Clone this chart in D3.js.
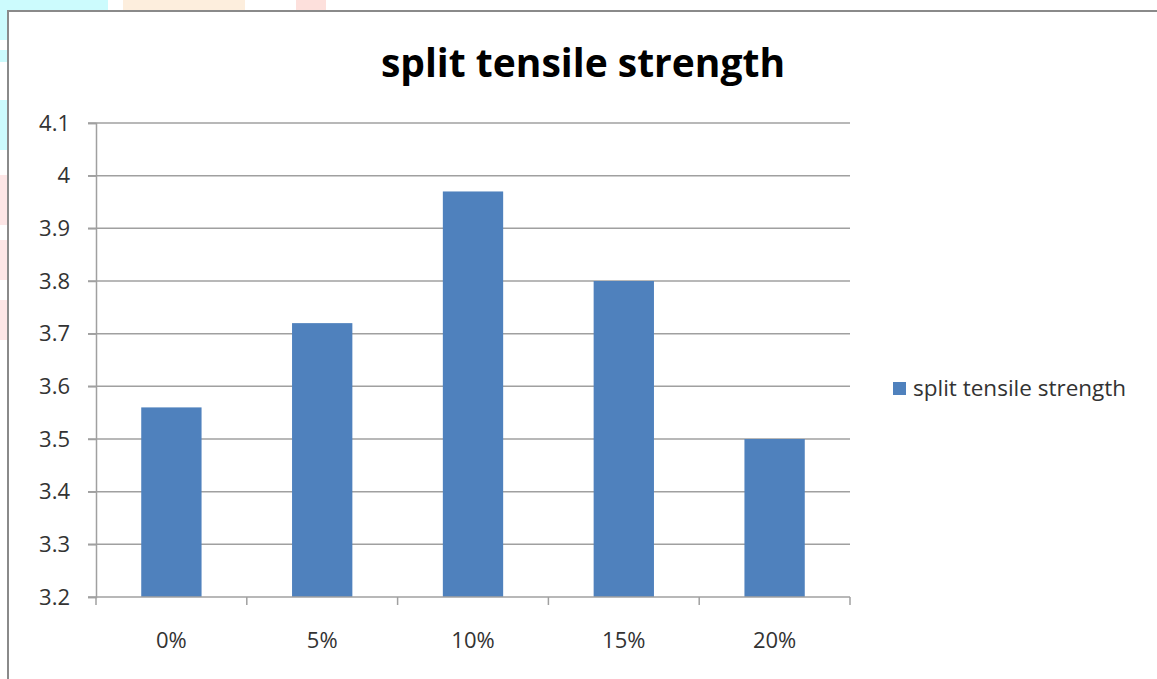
<!DOCTYPE html>
<html>
<head>
<meta charset="utf-8">
<script src="https://cdn.jsdelivr.net/npm/d3@7"></script>
<style>
  html, body { margin: 0; padding: 0; background: #ffffff; }
  svg { display: block; }
</style>
</head>
<body>
<svg id="chart" width="1157" height="679"></svg>
<script>
// Split tensile strength by replacement percentage
const categories = ["0%", "5%", "10%", "15%", "20%"];
const strengthValues = [3.56, 3.72, 3.97, 3.80, 3.50];
const yTicks = [3.2, 3.3, 3.4, 3.5, 3.6, 3.7, 3.8, 3.9, 4.0, 4.1];
const seriesName = "split tensile strength";
const chartTitle = "split tensile strength";

const svg = d3.select("#chart");
const W = 1157, H = 679;
const font = "'Open Sans', 'Liberation Sans', sans-serif";

// faint page decoration behind the chart frame
const deco = svg.append("g");
[
  [0, 0, 108, 10, "#ccfbfd"], [123, 0, 122, 10, "#fdeedd"], [296, 0, 30, 10, "#fde0dc"],
  [0, 0, 7, 40, "#ccfbfd"], [0, 50, 7, 12, "#ccfbfd"], [0, 100, 7, 50, "#ccfbfd"],
  [0, 175, 7, 50, "#fde6e6"], [0, 240, 7, 40, "#fde6e6"], [0, 300, 7, 40, "#fde6e6"]
].forEach(([x, y, w, h, c]) => deco.append("rect").attr("x", x).attr("y", y)
  .attr("width", w).attr("height", h).attr("fill", c));

// chart frame
svg.append("rect")
  .attr("x", 8).attr("y", 11).attr("width", W + 10).attr("height", H + 10)
  .attr("fill", "#ffffff").attr("stroke", "#8a8a8a").attr("stroke-width", 2);

const plot = { left: 96, right: 850, top: 123, bottom: 597 };

const x = d3.scaleBand()
  .domain(categories)
  .range([plot.left, plot.right])
  .paddingInner(0.6)
  .paddingOuter(0.3);

const y = d3.scaleLinear()
  .domain([3.2, 4.1])
  .range([plot.bottom, plot.top]);

// horizontal gridlines
svg.append("g")
  .selectAll("line")
  .data(yTicks.slice(1))
  .join("line")
  .attr("x1", plot.left - 8).attr("x2", plot.right)
  .attr("y1", d => y(d)).attr("y2", d => y(d))
  .attr("stroke", "#a0a0a0").attr("stroke-width", 1.5);

// bars
svg.append("g")
  .selectAll("rect")
  .data(strengthValues)
  .join("rect")
  .attr("x", (d, i) => x(categories[i]))
  .attr("width", x.bandwidth())
  .attr("y", d => y(d))
  .attr("height", d => y(3.2) - y(d))
  .attr("fill", "#4f81bd");

// y axis
const yAxis = svg.append("g")
  .attr("transform", `translate(${plot.left},0)`)
  .call(d3.axisLeft(y).tickValues(yTicks).tickSize(8).tickPadding(18)
    .tickFormat(d => d3.format("")(+d.toFixed(1))));
yAxis.attr("font-family", font).attr("font-size", 22);
yAxis.select(".domain").attr("stroke", "#a0a0a0").attr("stroke-width", 1.5);
yAxis.selectAll(".tick line").attr("stroke", "#a0a0a0").attr("stroke-width", 1.5);
yAxis.selectAll(".tick text").attr("fill", "#333");

// x axis with ticks between categories
const xAxis = svg.append("g")
  .attr("transform", `translate(0,${plot.bottom})`);
xAxis.append("line")
  .attr("x1", plot.left - 8).attr("x2", plot.right)
  .attr("stroke", "#a0a0a0").attr("stroke-width", 1.5);
const step = x.step();
const boundaries = d3.range(categories.length + 1).map(i => plot.left + i * step);
xAxis.selectAll("line.tick")
  .data(boundaries)
  .join("line")
  .attr("class", "tick")
  .attr("x1", d => d).attr("x2", d => d)
  .attr("y1", 0).attr("y2", 8)
  .attr("stroke", "#a0a0a0").attr("stroke-width", 1.5);
xAxis.selectAll("text")
  .data(categories)
  .join("text")
  .attr("x", d => x(d) + x.bandwidth() / 2)
  .attr("y", 51)
  .attr("text-anchor", "middle")
  .attr("font-family", font).attr("font-size", 22).attr("fill", "#333")
  .text(d => d);

// title
svg.append("text")
  .attr("x", 583).attr("y", 77)
  .attr("text-anchor", "middle")
  .attr("font-family", font).attr("font-weight", "bold")
  .attr("font-size", 39).attr("fill", "#000")
  .text(chartTitle);

// legend
const legend = svg.append("g").attr("transform", "translate(893,382)");
legend.append("rect").attr("width", 13).attr("height", 13).attr("fill", "#4f81bd");
legend.append("text")
  .attr("x", 20).attr("y", 14)
  .attr("font-family", font).attr("font-size", 22.5).attr("fill", "#333")
  .text(seriesName);
</script>
</body>
</html>
